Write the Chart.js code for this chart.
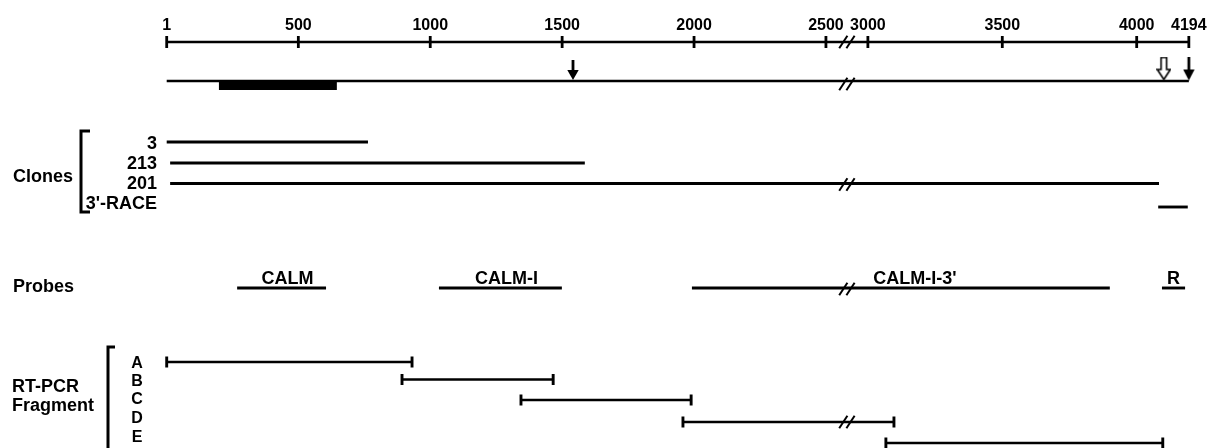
<!DOCTYPE html>
<html><head><meta charset="utf-8">
<script src="https://cdn.jsdelivr.net/npm/chart.js@4.4.0/dist/chart.umd.min.js"></script>
<style>html,body{margin:0;padding:0;background:#fff;}canvas{display:block}</style>
</head><body>
<canvas id="c" width="1210" height="448"></canvas>
<script>
// ---------------- data (nucleotide positions) ----------------
const rulerTicks = [1, 500, 1000, 1500, 2000, 2500, 3000, 3500, 4000, 4194];
const transcript = [1, 4194];
const codingRegion = [199, 646];
const arrowPositions = [1541, 4101, 4194];
const arrowKinds = ['filledShort', 'open', 'filled'];
const cloneNames = ['3', '213', '201', "3'-RACE"];
const cloneStart = [1, 14, 14, 4080];
const cloneEnd = [764, 1586, 4083, 4190];
const probeNames = ['CALM', 'CALM-I', "CALM-I-3'", 'R'];
const probeStart = [268, 1033, 1992, 4094];
const probeEnd = [605, 1499, 3900, 4180];
const fragmentNames = ['A', 'B', 'C', 'D', 'E'];
const fragmentStart = [1, 893, 1344, 1958, 3067];
const fragmentEnd = [931, 1466, 1989, 3097, 4097];

// ---------------- layout ----------------
const AXIS = { breakFrom: 2500, breakTo: 3000, gap: 159, k2: 1.019, pxPerUnit: 0.2638, firstPx: 166.7, left: 160, right: 1200 };
const ROW = {
  tickLabel: 30, ruler: 42, transcript: 81, cds: 85.5,
  arrowY: [70, 68.5, 68.5],
  clones: [142, 163, 183.5, 207], cloneLabel: [148.5, 169, 188.5, 208.5], cloneLabelX: 157,
  probes: 288, probeLabel: 284, probeLabelShift: [6, 6, 14, 0],
  fragments: [362, 379.5, 400, 422, 443], fragmentLabel: [367.5, 385.5, 403.5, 422.5, 441.5], fragmentLabelX: 137
};
const FONT = '"Liberation Sans", Arial, Helvetica, sans-serif';
const INK = '#000';

function toAxis(n) {
  if (n <= AXIS.breakFrom) return n;
  if (n >= AXIS.breakTo) return AXIS.breakFrom + AXIS.gap + (n - AXIS.breakTo) * AXIS.k2;
  return AXIS.breakFrom + (n - AXIS.breakFrom) / (AXIS.breakTo - AXIS.breakFrom) * AXIS.gap;
}
const xMin = 1 - (AXIS.firstPx - AXIS.left) / AXIS.pxPerUnit;
const xMax = xMin + (AXIS.right - AXIS.left) / AXIS.pxPerUnit;
const breakCenter = (toAxis(AXIS.breakFrom) + toAxis(AXIS.breakTo)) / 2;
const spans = (a, b) => a < AXIS.breakFrom && b > AXIS.breakTo;

// arrow glyphs
function makeArrow(kind) {
  const cv = document.createElement('canvas');
  const h = kind === 'filledShort' ? 20 : 24, w = kind === 'open' ? 15 : 12;
  cv.width = w; cv.height = h;
  const c = cv.getContext('2d');
  c.fillStyle = INK; c.strokeStyle = INK;
  if (kind === 'open') {
    const hh = 11;
    c.lineWidth = 1.6;
    c.beginPath();
    c.moveTo(w/2 - 2.8, 1); c.lineTo(w/2 + 2.8, 1); c.lineTo(w/2 + 2.8, h - hh);
    c.lineTo(w - 1, h - hh); c.lineTo(w/2, h - 1); c.lineTo(1, h - hh);
    c.lineTo(w/2 - 2.8, h - hh); c.closePath();
    c.fillStyle = '#fff'; c.fill(); c.stroke();
  } else {
    const hh = kind === 'filledShort' ? 10 : 11;
    c.fillRect(w/2 - 1.4, 0, 2.8, h - hh + 1);
    c.beginPath(); c.moveTo(0.3, h - hh); c.lineTo(w - 0.3, h - hh); c.lineTo(w/2, h); c.closePath(); c.fill();
  }
  return cv;
}

function seg(a, b, y, extra) {
  return Object.assign({
    data: [{ x: toAxis(a), y: y }, { x: toAxis(b), y: y }],
    borderColor: INK, borderWidth: 2.9, pointRadius: 0, showLine: true, clip: false, borderCapStyle: 'butt'
  }, extra || {});
}

const datasets = [];
// ruler with tick marks
datasets.push({
  data: rulerTicks.map(v => ({ x: toAxis(v), y: ROW.ruler })),
  borderColor: INK, borderWidth: 2.6, showLine: true, clip: false,
  pointStyle: 'line', pointRotation: 90, pointRadius: 6, pointBorderWidth: 2.8, pointBorderColor: INK
});
// transcript + coding region
datasets.push(seg(transcript[0], transcript[1], ROW.transcript, { borderWidth: 2.7 }));
datasets.push(seg(codingRegion[0], codingRegion[1], ROW.cds, { borderWidth: 9 }));
// arrows
datasets.push({
  data: arrowPositions.map((v, i) => ({ x: toAxis(v), y: ROW.arrowY[i] })),
  showLine: false, clip: false, pointRadius: 6,
  pointStyle: arrowKinds.map(makeArrow)
});
// clones
cloneNames.forEach((n, i) => datasets.push(seg(cloneStart[i], cloneEnd[i], ROW.clones[i])));
// probes
probeNames.forEach((n, i) => datasets.push(seg(probeStart[i], probeEnd[i], ROW.probes)));
// RT-PCR fragments with end caps
fragmentNames.forEach((n, i) => datasets.push(seg(fragmentStart[i], fragmentEnd[i], ROW.fragments[i], {
  borderWidth: 2.6, pointStyle: 'line', pointRotation: 90, pointRadius: 5.5, pointBorderWidth: 2.9, pointBorderColor: INK
})));
// axis-break marks "//"
const breakRows = [ROW.ruler, ROW.transcript + 3];
cloneNames.forEach((n, i) => { if (spans(cloneStart[i], cloneEnd[i])) breakRows.push(ROW.clones[i] + 1); });
probeNames.forEach((n, i) => { if (spans(probeStart[i], probeEnd[i])) breakRows.push(ROW.probes + 1); });
fragmentNames.forEach((n, i) => { if (spans(fragmentStart[i], fragmentEnd[i])) breakRows.push(ROW.fragments[i]); });
const slashOff = 3.6 / AXIS.pxPerUnit;
datasets.push({
  data: breakRows.flatMap(y => [{ x: breakCenter - slashOff, y: y }, { x: breakCenter + slashOff, y: y }]),
  showLine: false, clip: false, pointStyle: 'line', pointRotation: -57, pointRadius: 7.5,
  pointBorderWidth: 2, pointBorderColor: INK
});

const textPlugin = {
  id: 'texts',
  afterDatasetsDraw(chart) {
    const ctx = chart.ctx, xs = chart.scales.x, ys = chart.scales.y;
    ctx.save();
    ctx.fillStyle = INK; ctx.strokeStyle = INK;
    // ruler labels
    ctx.font = 'bold 16px ' + FONT; ctx.textAlign = 'center'; ctx.textBaseline = 'alphabetic';
    rulerTicks.forEach(v => ctx.fillText(String(v), xs.getPixelForValue(toAxis(v)), ys.getPixelForValue(ROW.tickLabel)));
    // clone labels
    ctx.font = 'bold 18px ' + FONT; ctx.textAlign = 'right';
    cloneNames.forEach((n, i) => ctx.fillText(n, ROW.cloneLabelX, ys.getPixelForValue(ROW.cloneLabel[i])));
    // probe labels
    ctx.textAlign = 'center';
    probeNames.forEach((n, i) => {
      const mid = (xs.getPixelForValue(toAxis(probeStart[i])) + xs.getPixelForValue(toAxis(probeEnd[i]))) / 2;
      ctx.fillText(n, mid + ROW.probeLabelShift[i], ys.getPixelForValue(ROW.probeLabel));
    });
    // group labels
    ctx.textAlign = 'left';
    ctx.fillText('Clones', 13, 182);
    ctx.fillText('Probes', 13, 292);
    ctx.fillText('RT-PCR', 12, 392);
    ctx.fillText('Fragment', 12, 411);
    // fragment letters
    ctx.font = 'bold 16px ' + FONT; ctx.textAlign = 'center';
    fragmentNames.forEach((n, i) => ctx.fillText(n, ROW.fragmentLabelX, ys.getPixelForValue(ROW.fragmentLabel[i])));
    // brackets
    ctx.lineWidth = 3; ctx.lineCap = 'butt'; ctx.lineJoin = 'miter';
    ctx.beginPath(); ctx.moveTo(90, 131); ctx.lineTo(81, 131); ctx.lineTo(81, 212); ctx.lineTo(90, 212); ctx.stroke();
    ctx.beginPath(); ctx.moveTo(115, 347); ctx.lineTo(108, 347); ctx.lineTo(108, 452); ctx.stroke();
    ctx.restore();
  }
};

new Chart(document.getElementById('c'), {
  type: 'line',
  data: { datasets: datasets },
  options: {
    responsive: false, animation: false, devicePixelRatio: 1,
    layout: { autoPadding: false, padding: { left: AXIS.left, right: 1210 - AXIS.right, top: 0, bottom: 0 } },
    parsing: true,
    scales: {
      x: { type: 'linear', min: xMin, max: xMax, display: false },
      y: { type: 'linear', min: 0, max: 448, reverse: true, display: false }
    },
    plugins: { legend: { display: false }, tooltip: { enabled: false } },
    elements: { line: { tension: 0 } }
  },
  plugins: [textPlugin]
});
</script>
</body></html>
